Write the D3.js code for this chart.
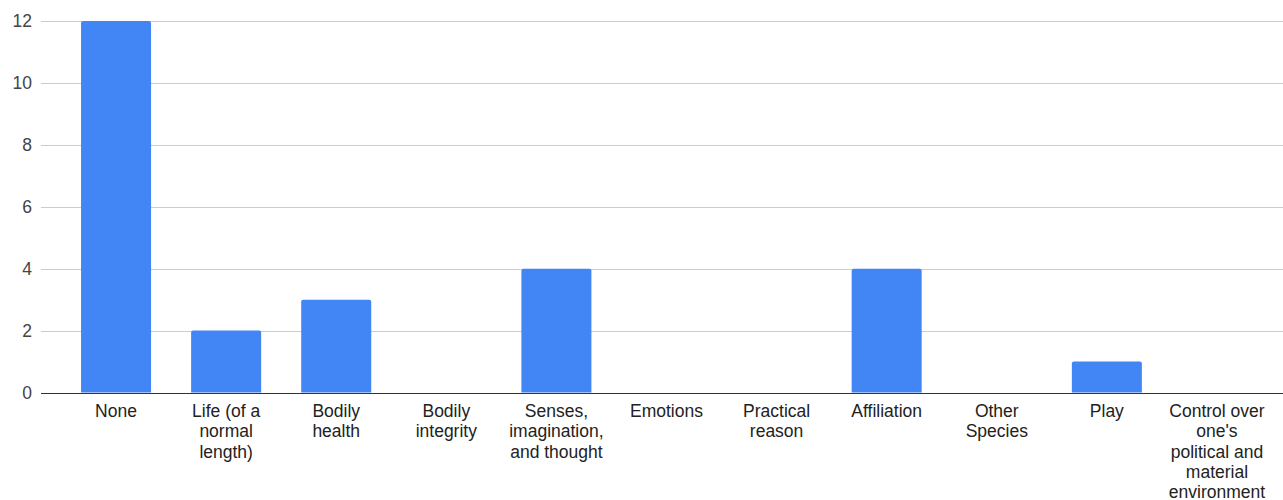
<!DOCTYPE html>
<html>
<head>
<meta charset="utf-8">
<script src="https://cdn.jsdelivr.net/npm/d3@7"></script>
<style>
  body { margin: 0; background: #fff; }
  text { font-family: Arial, "Liberation Sans", sans-serif; }
</style>
</head>
<body>
<div id="chart"></div>
<script>
// categories, with line breaks where the reference wraps them
var categories = [
    "None",
    "Life (of a\nnormal\nlength)",
    "Bodily\nhealth",
    "Bodily\nintegrity",
    "Senses,\nimagination,\nand thought",
    "Emotions",
    "Practical\nreason",
    "Affiliation",
    "Other\nSpecies",
    "Play",
    "Control over\none's\npolitical and\nmaterial\nenvironment"
];
var counts = [12, 2, 3, 0, 4, 0, 0, 4, 0, 1, 0];
var yTicks = [0, 2, 4, 6, 8, 10, 12];

var width = 1283, height = 500;
var plotLeft = 41, plotRight = 1283;

var svg = d3.select("#chart").append("svg")
    .attr("width", width)
    .attr("height", height);

var x = d3.scaleBand()
    .domain(d3.range(categories.length))
    .range([61, 1272])
    .paddingInner(0.364)
    .paddingOuter(0.182);

var y = d3.scaleLinear()
    .domain([0, 12])
    .range([392.5, 21]);

// gridlines
svg.append("g")
    .selectAll("line")
    .data(yTicks.filter(function(d){ return d != 0; }))
    .enter()
    .append("line")
    .attr("x1", plotLeft)
    .attr("x2", plotRight)
    .attr("y1", function(d){ return Math.round(y(d)) + 0.5; })
    .attr("y2", function(d){ return Math.round(y(d)) + 0.5; })
    .attr("stroke", "#cccccc")
    .attr("stroke-width", 1);

// y tick labels
svg.append("g")
    .selectAll("text")
    .data(yTicks)
    .enter()
    .append("text")
    .attr("x", 32)
    .attr("y", function(d){ return y(d); })
    .attr("dy", ".35em")
    .attr("text-anchor", "end")
    .attr("font-size", 17.5)
    .attr("fill", "#444")
    .text(function(d){ return d; });

// bars, small rounded top corners
function barPath(d, i) {
    var x0 = x(i), w = x.bandwidth();
    var y0 = y(0), y1 = y(d);
    if (d <= 0) return null;
    var r = Math.min(2, (y0 - y1) / 2);
    return "M" + x0 + "," + y0 +
        "V" + (y1 + r) +
        "Q" + x0 + "," + y1 + " " + (x0 + r) + "," + y1 +
        "H" + (x0 + w - r) +
        "Q" + (x0 + w) + "," + y1 + " " + (x0 + w) + "," + (y1 + r) +
        "V" + y0 + "Z";
}

svg.append("g")
    .selectAll("path")
    .data(counts)
    .enter()
    .append("path")
    .attr("d", barPath)
    .attr("fill", "#4285f4");

// baseline
svg.append("line")
    .attr("x1", plotLeft)
    .attr("x2", plotRight)
    .attr("y1", Math.round(y(0)) + 0.5)
    .attr("y2", Math.round(y(0)) + 0.5)
    .attr("stroke", "#333333")
    .attr("stroke-width", 1);

// category labels
var labels = svg.append("g")
    .selectAll("text")
    .data(categories)
    .enter()
    .append("text")
    .attr("text-anchor", "middle")
    .attr("font-size", 17.5)
    .attr("fill", "#222");

labels.each(function(d, i){
    var cx = x(i) + x.bandwidth() / 2;
    d3.select(this).selectAll("tspan")
        .data(d.split("\n"))
        .enter()
        .append("tspan")
        .attr("x", cx)
        .attr("y", function(line, j){ return 411 + j * 20.3; })
        .attr("dy", ".35em")
        .text(function(line){ return line; });
});
</script>
</body>
</html>
